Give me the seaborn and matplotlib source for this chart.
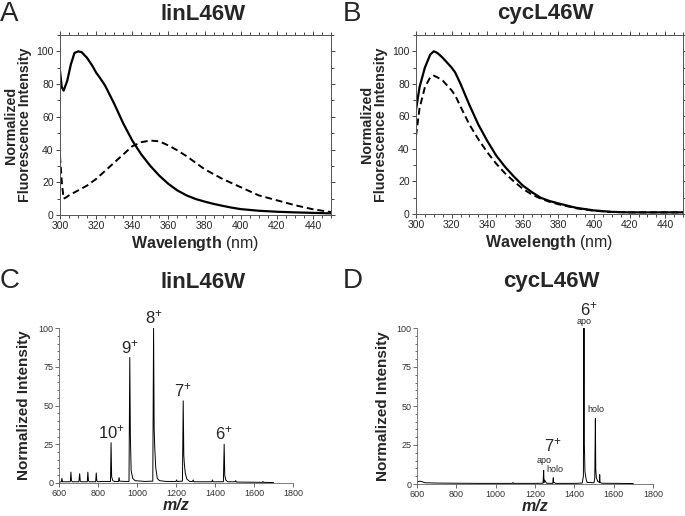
import matplotlib
matplotlib.use("Agg")
import matplotlib.pyplot as plt
from matplotlib.ticker import MultipleLocator
import seaborn as sns

# fluorescence emission spectra (normalized)
wl_a_solid = [300, 301, 302, 304, 306, 308, 310, 312, 315, 318, 320, 322, 325, 330, 335,
              340, 345, 350, 355, 360, 365, 370, 375, 380, 385, 390, 395, 400, 410, 420, 430, 440, 450]
fl_a_solid = [88, 78, 76, 82, 92, 99, 100, 99.5, 96, 91, 87, 84, 79, 68, 56,
              45.5, 37, 30, 24, 19, 15, 12, 9.8, 8.2, 6.8, 5.6, 4.5, 3.6, 2.6, 2, 1.6, 1.3, 1]
wl_a_dash = [300, 301, 302, 303, 305, 310, 315, 320, 325, 330, 335, 340, 345, 350, 355, 360,
             365, 370, 375, 380, 385, 390, 395, 400, 405, 410, 415, 420, 430, 440, 450]
fl_a_dash = [36, 20, 10, 10.5, 12, 15, 18, 22, 27, 32, 37, 42, 44.5, 45.5, 45, 42.5,
             39.5, 36, 32, 28, 25, 22, 19.5, 17, 14.5, 12, 10.5, 9, 6, 3.5, 1.8]

wl_b = [300, 302, 305, 308, 310, 312, 315, 320, 322, 325, 330, 335, 340, 345, 350, 355,
        360, 365, 370, 375, 380, 390, 400, 410, 420, 430, 440, 450]
fl_b_solid = [64, 78, 90, 98, 100, 99, 96, 90, 87, 80, 67, 55, 45, 36, 29, 23,
              17.5, 13.5, 10, 8, 6.5, 3.8, 2.2, 1.3, 1, 1, 1, 1]
fl_b_dash = [48, 65, 78, 84, 85, 84, 82, 76, 73, 66, 55, 46, 38, 31, 25, 20,
             15.5, 12, 9.5, 7.5, 6, 3.5, 2, 1.2, 1, 1, 1, 1]

# ESI mass spectra (m/z, normalized intensity)
mz_c = [600, 612, 615, 618, 640, 658, 661, 664, 668, 702, 706, 709, 713, 745, 748, 751, 755,
        788, 791, 794, 798, 820, 850, 864, 867, 870, 876, 884, 905, 908, 911, 940, 959, 963,
        966, 970, 978, 990, 1040, 1081, 1085, 1088, 1091, 1096, 1104, 1115, 1150, 1200, 1203,
        1206, 1233, 1237, 1240, 1243, 1248, 1256, 1270, 1285, 1288, 1291, 1384, 1387, 1390,
        1443, 1447, 1450, 1455, 1465, 1503, 1506, 1510, 1600, 1643, 1646, 1649, 1700]
in_c = [0.5, 0.8, 3, 0.8, 0.8, 0.8, 7, 1.5, 0.8, 0.8, 6, 1.2, 0.8, 0.8, 7, 1.5, 0.8,
        0.8, 6.5, 1.5, 0.8, 1, 1, 1, 26, 4, 1.5, 1, 1, 3.5, 1.2, 1, 1, 81,
        30, 8, 3, 1.5, 1, 1.2, 100, 35, 23, 10, 3, 1.5, 1, 1, 2,
        1, 1.2, 53, 18, 12, 6, 2.5, 1, 1, 2, 0.8, 0.8, 2, 0.8,
        0.8, 25, 5, 2, 0.8, 0.8, 1.5, 0.6, 0.5, 0.4, 1, 0.4, 0.3]

mz_d = [600, 605, 615, 625, 640, 700, 800, 900, 1000, 1085, 1088, 1091, 1200, 1241, 1244,
        1246, 1248, 1252, 1258, 1290, 1293, 1295, 1298, 1305, 1400, 1440, 1446, 1449, 1451,
        1454, 1460, 1465, 1500, 1504, 1507, 1509, 1512, 1520, 1527, 1529, 1531, 1540, 1700]
in_d = [1, 1.5, 1.8, 1.5, 0.8, 0.6, 0.5, 0.4, 0.4, 0.4, 1, 0.4, 0.4, 0.5, 8.8,
        1, 2.5, 2, 0.5, 0.4, 4, 0.8, 1, 0.4, 0.4, 0.6, 5, 100, 25,
        8, 3, 1, 0.8, 4, 42, 9, 4, 1.5, 1, 6, 1, 0.5, 0.3]

# charge state labels
peaks_c = ["10", "9", "8", "7", "6"]
peaks_c_mz = [867, 963, 1085, 1237, 1447]
peaks_c_y = [27, 82, 101, 54, 26]

sns.set_style("ticks")
plt.rcParams["font.family"] = ["Liberation Sans", "DejaVu Sans"]
plt.rcParams["mathtext.fontset"] = "custom"
plt.rcParams["mathtext.rm"] = "Liberation Sans"
plt.rcParams["mathtext.bf"] = "Liberation Sans:bold"
plt.rcParams["mathtext.it"] = "Liberation Sans:italic"

fig = plt.figure(figsize=(6.85, 5.16), dpi=100)
W, H = 685, 516


def add_ax(x0, y0, x1, y1):
    return fig.add_axes([x0 / W, 1 - y1 / H, (x1 - x0) / W, (y1 - y0) / H])


def fluor(ax, x1, y1, x2, y2):
    sns.lineplot(x=x1, y=y1, ax=ax, color="black", lw=1.6)
    sns.lineplot(x=x2, y=y2, ax=ax, color="black", lw=1.4, linestyle=(0, (3.5, 2)))
    ax.set_xlim(300, 450)
    ax.set_ylim(0, 110)
    ax.xaxis.set_major_locator(MultipleLocator(20))
    ax.xaxis.set_minor_locator(MultipleLocator(5))
    ax.yaxis.set_major_locator(MultipleLocator(20))
    ax.yaxis.set_minor_locator(MultipleLocator(10))
    ax.tick_params(which="both", direction="out", labelsize=7.5, width=0.6, pad=1.5,
                   top=True, right=True)
    ax.tick_params(which="major", length=3)
    ax.tick_params(which="minor", length=2)
    for s in ax.spines.values():
        s.set_linewidth(0.7)
        s.set_color("#555555")
    ax.set_xlabel(r"$\mathbf{Wavelength}$ (nm)", fontsize=11.5, labelpad=2)
    ax.set_ylabel("Normalized\nFluorescence Intensity", fontsize=10.3, fontweight="bold",
                  linespacing=1.0, labelpad=3)


def msplot(ax, mz, inten):
    sns.lineplot(x=mz, y=inten, ax=ax, color="black", lw=0.7)
    ax.set_xlim(600, 1800)
    ax.set_ylim(0, 100)
    ax.xaxis.set_major_locator(MultipleLocator(200))
    ax.yaxis.set_major_locator(MultipleLocator(25))
    ax.yaxis.set_minor_locator(MultipleLocator(5))
    sns.despine(ax=ax)
    for s in ax.spines.values():
        s.set_linewidth(0.6)
        s.set_color("#666666")
    ax.tick_params(which="both", direction="out", labelsize=6.5, width=0.5, pad=1,
                   colors="#333333")
    ax.tick_params(which="major", length=3)
    ax.tick_params(which="minor", length=1.5)
    ax.set_xlabel("m/z", fontsize=11.5, fontweight="bold", style="italic", labelpad=0)
    ax.set_ylabel("Normalized Intensity", fontsize=11, fontweight="bold", labelpad=5)


ax_a = add_ax(60, 35, 331, 215)
fluor(ax_a, wl_a_solid, fl_a_solid, wl_a_dash, fl_a_dash)
ax_b = add_ax(416, 35, 683, 214)
fluor(ax_b, wl_b, fl_b_solid, wl_b, fl_b_dash)

ax_c = add_ax(59, 328, 293, 483)
msplot(ax_c, mz_c, in_c)
for lab, x, y in zip(peaks_c, peaks_c_mz, peaks_c_y):
    ax_c.text(x, y, lab + "$^{+}$", ha="center", va="bottom", fontsize=12)

ax_d = add_ax(417, 328, 653, 484)
msplot(ax_d, mz_d, in_d)
ax_d.text(1475, 106, "6$^{+}$", ha="center", va="bottom", fontsize=12)
ax_d.text(1449, 101, "apo", ha="center", va="bottom", fontsize=6.5)
ax_d.text(1507, 45, "holo", ha="center", va="bottom", fontsize=6.5)
ax_d.text(1291, 19, "7$^{+}$", ha="center", va="bottom", fontsize=12)
ax_d.text(1244, 12, "apo", ha="center", va="bottom", fontsize=6.5)
ax_d.text(1300, 6.5, "holo", ha="center", va="bottom", fontsize=6.5)

# titles and panel letters
title_kw = dict(ha="center", va="center", fontsize=16, fontweight="bold")
fig.text(203 / W, 1 - 14 / H, "linL46W", **title_kw)
fig.text(545 / W, 1 - 14 / H, "cycL46W", **title_kw)
fig.text(203 / W, 1 - 282 / H, "linL46W", **title_kw)
fig.text(551 / W, 1 - 282 / H, "cycL46W", **title_kw)
for lab, x, y in [("A", 0, 1), ("B", 343, 1), ("C", 0, 268), ("D", 343, 268)]:
    fig.text(x / W, 1 - y / H, lab, ha="left", va="top", fontsize=20)

fig.savefig("out.png", dpi=100)
